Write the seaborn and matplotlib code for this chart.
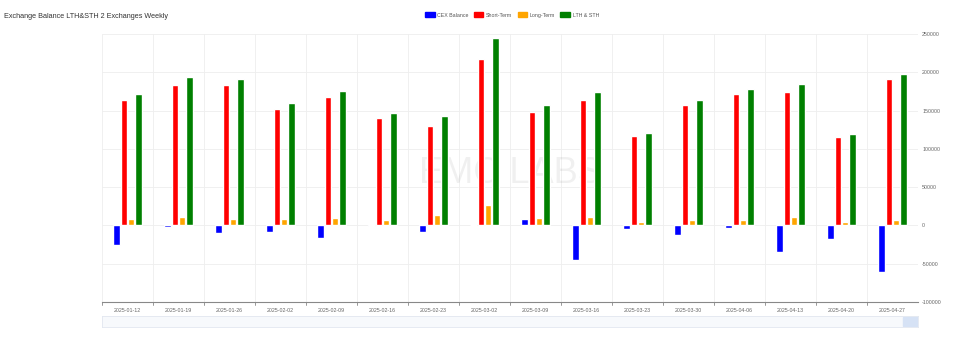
import pandas as pd
import numpy as np
import matplotlib
matplotlib.use("Agg")
import matplotlib.pyplot as plt
import matplotlib.patches as mpatches
import seaborn as sns

# weekly values
weeks = ["2025-01-12", "2025-01-19", "2025-01-26", "2025-02-02", "2025-02-09", "2025-02-16",
         "2025-02-23", "2025-03-02", "2025-03-09", "2025-03-16", "2025-03-23", "2025-03-30",
         "2025-04-06", "2025-04-13", "2025-04-20", "2025-04-27"]
cex_balance = [-26000, -2000, -10000, -9000, -16000, -1000, -8000, 1000,
               8000, -45000, -5000, -13000, -4000, -35000, -18000, -61000]
short_term = [164000, 184000, 184000, 152000, 168000, 140000, 130000, 218000,
              148000, 164000, 117000, 157000, 172000, 174000, 115000, 191000]
long_term = [9000, 11500, 9000, 9000, 9500, 7000, 14000, 27000,
             9500, 11000, 4000, 7000, 7000, 11000, 5000, 7000]
lth_sth = [172000, 194000, 191000, 160000, 176000, 147000, 143000, 245000,
           157000, 174000, 121000, 164000, 178000, 185000, 119000, 197500]

series = ["CEX Balance", "Short-Term", "Long-Term", "LTH & STH"]
palette = {"CEX Balance": "#0000FF", "Short-Term": "#FF0000",
           "Long-Term": "#FFA500", "LTH & STH": "#008000"}

df = pd.DataFrame({"week": weeks, "CEX Balance": cex_balance, "Short-Term": short_term,
                   "Long-Term": long_term, "LTH & STH": lth_sth})
long_df = df.melt(id_vars = "week", var_name = "series", value_name = "value")

sns.set_style("white")
plt.rcParams["font.family"] = ["Liberation Sans", "DejaVu Sans"]

fig = plt.figure(figsize = (9.64, 3.42), dpi = 100)
ax = fig.add_axes([102 / 964, 1 - 302 / 342, 816 / 964, 268 / 342])

sns.barplot(data = long_df, x = "week", y = "value", hue = "series", hue_order = series,
            palette = palette, width = 0.58, gap = 0.12, saturation = 1,
            legend = False, ax = ax)

ax.set_xlim(-0.5, len(weeks) - 0.5)
ax.set_ylim(-100000, 250000)
ax.set_yticks(np.arange(-100000, 250001, 50000))
ax.yaxis.tick_right()
ax.tick_params(axis = "y", length = 0, labelsize = 3.8, labelcolor = "#666666", pad = 3)
ax.set_yticklabels([str(v) for v in range(-100000, 250001, 50000)])
ax.tick_params(axis = "x", length = 0, labelsize = 3.8, labelcolor = "#666666", pad = 4)
ax.set_xlabel("")
ax.set_ylabel("")

# horizontal grid at y ticks, vertical grid at category boundaries
for v in range(-50000, 250001, 50000):
    ax.axhline(v, color = "#eeeeee", linewidth = 0.6, zorder = 0)
for i in range(len(weeks)):
    ax.axvline(i - 0.5, color = "#eeeeee", linewidth = 0.6, zorder = 0)
    ax.plot([i - 0.5, i - 0.5], [-100000, -103500], color = "#888888",
            linewidth = 0.6, clip_on = False)
for s in ["top", "right", "left"]:
    ax.spines[s].set_visible(False)
ax.spines["bottom"].set_color("#888888")
ax.spines["bottom"].set_linewidth(0.8)

# watermark
ax.text(0.5, 0.48, "EMC LABS", transform = ax.transAxes, ha = "center", va = "center",
        fontsize = 26, color = "#000000", alpha = 0.06, zorder = 0)

fig.text(4 / 964, 1 - 16 / 342, "Exchange Balance LTH&STH 2 Exchanges Weekly",
         fontsize = 5.2, color = "#333333", va = "center")

handles = [mpatches.FancyBboxPatch((0, 0), 1, 1, boxstyle = "round,pad=0,rounding_size=0.3",
                                   color = palette[s], label = s) for s in series]
fig.legend(handles = handles, loc = "center", bbox_to_anchor = (512 / 964, 1 - 15 / 342),
           ncol = 4, frameon = False, fontsize = 3.8, handlelength = 1.8, handleheight = 1.0,
           columnspacing = 1.0, handletextpad = 0.5, labelcolor = "#555555")

# data zoom slider strip
slider = fig.add_axes([102 / 964, 1 - 327 / 342, 816 / 964, 11 / 342])
slider.set_xlim(0, 1)
slider.set_ylim(0, 1)
slider.set_facecolor("#f7f9fc")
for sp in slider.spines.values():
    sp.set_color("#e2e7f0")
    sp.set_linewidth(0.6)
slider.add_patch(mpatches.Rectangle((0.982, 0.05), 0.018, 0.9, color = "#d6e2f5"))
slider.set_xticks([])
slider.set_yticks([])

fig.savefig("out.png", dpi = 100)
